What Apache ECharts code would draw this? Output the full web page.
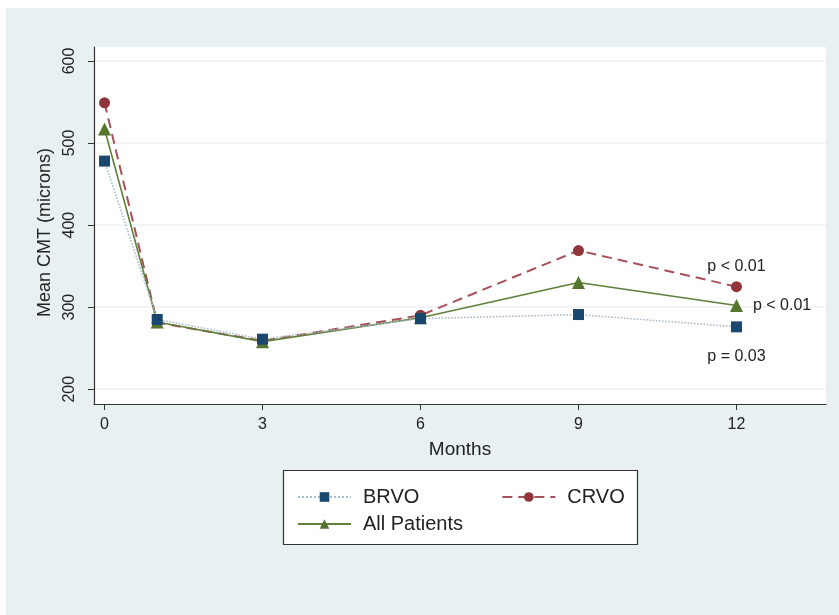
<!DOCTYPE html>
<html>
<head>
<meta charset="utf-8">
<script src="https://cdn.jsdelivr.net/npm/echarts@6/dist/echarts.min.js"></script>
<style>
html,body{margin:0;padding:0;background:#ffffff;}
#bg{position:absolute;left:6px;top:8px;width:833px;height:607px;background:#e8f0f2;}
#chart{position:absolute;left:0;top:0;width:839px;height:615px;}
</style>
</head>
<body>
<div id="bg"></div>
<div id="chart"></div>
<script>
const months = [0, 1, 3, 6, 9, 12];
const brvo = [478, 285, 261, 286, 291, 276];
const crvo = [549, 281, 259, 290, 369, 325];
const allPatients = [517, 282, 258, 287, 330, 302];
const xTicks = [0, 3, 6, 9, 12];
const yTicks = [200, 300, 400, 500, 600];
const pLabels = { BRVO: 'p = 0.03', CRVO: 'p < 0.01', 'All Patients': 'p < 0.01' };

const font = 'Liberation Sans, Arial, Helvetica, sans-serif';

function buildData(vals, labelCfg) {
  return vals.map((v, i) => {
    const item = { value: [months[i], v] };
    if (i === vals.length - 1) {
      item.label = Object.assign({ show: true, color: '#222', fontSize: 16, fontFamily: font }, labelCfg);
    }
    return item;
  });
}

const chart = echarts.init(document.getElementById('chart'), null, { renderer: 'canvas' });
chart.setOption({
  backgroundColor: 'transparent',
  animation: false,
  grid: {
    left: 94, top: 47, width: 732, height: 357,
    show: true, backgroundColor: '#ffffff', borderWidth: 0
  },
  xAxis: {
    type: 'value', min: -0.2, max: 13.7,
    name: 'Months', nameLocation: 'middle', nameGap: 36,
    nameTextStyle: { fontSize: 19, color: '#222', fontFamily: font },
    axisLine: { show: true, onZero: false, lineStyle: { color: '#333', width: 1.2 } },
    axisTick: { show: true, length: 6, customValues: xTicks, lineStyle: { color: '#333' } },
    axisLabel: { customValues: xTicks, fontSize: 16, color: '#222', margin: 13, fontFamily: font },
    splitLine: { show: false }
  },
  yAxis: {
    type: 'value', min: 182, max: 617,
    name: 'Mean CMT (microns)', nameLocation: 'middle', nameGap: 34,
    nameTextStyle: { fontSize: 18, color: '#222', fontFamily: font, padding: [0, 14, 0, 0] },
    axisLine: { show: true, onZero: false, lineStyle: { color: '#333', width: 1.2 } },
    axisTick: { show: true, length: 6, customValues: yTicks, lineStyle: { color: '#333' } },
    axisLabel: { customValues: yTicks, rotate: 90, fontSize: 16, color: '#222', margin: 16, fontFamily: font },
    splitLine: { show: false }
  },
  legend: [
    {
      data: ['BRVO', 'CRVO'], left: 292, top: 482, itemWidth: 53, itemHeight: 12, itemGap: 82,
      textStyle: { fontSize: 20, color: '#222', fontFamily: font, padding: [0, 0, 0, 7] },
      selectedMode: false
    },
    {
      data: ['All Patients'], left: 292, top: 509, itemWidth: 53, itemHeight: 12,
      textStyle: { fontSize: 20, color: '#222', fontFamily: font, padding: [0, 0, 0, 7] },
      selectedMode: false
    }
  ],
  graphic: [
    { type: 'rect', z: -1, shape: { x: 283.5, y: 470.5, width: 354, height: 74 },
      style: { fill: '#ffffff', stroke: '#333', lineWidth: 1.2 } }
  ],
  series: [
    {
      name: 'All Patients', type: 'line', z: 3,
      data: buildData(allPatients, { formatter: pLabels['All Patients'], position: 'right', distance: 10 }),
      symbol: 'triangle', symbolSize: 13,
      itemStyle: { color: '#55752f' },
      lineStyle: { color: '#5f7f3a', width: 1.6, type: 'solid' },
      markLine: {
        silent: true, symbol: 'none', label: { show: false }, z: 0,
        lineStyle: { color: '#ebf1f4', width: 1.5, type: 'solid' },
        data: yTicks.map(v => ({ yAxis: v }))
      }
    },
    {
      name: 'BRVO', type: 'line', z: 4,
      data: buildData(brvo, { formatter: pLabels.BRVO, position: 'bottom', distance: 16 }),
      symbol: 'rect', symbolSize: 11,
      itemStyle: { color: '#1a476f' },
      lineStyle: { color: '#a9bccd', width: 1.6, type: 'dotted' }
    },
    {
      name: 'CRVO', type: 'line', z: 2,
      data: buildData(crvo, { formatter: pLabels.CRVO, position: 'top', distance: 7 }),
      symbol: 'circle', symbolSize: 11,
      itemStyle: { color: '#90353b' },
      lineStyle: { color: '#a8505a', width: 2, type: [10, 6] }
    }
  ]
});
</script>
</body>
</html>
